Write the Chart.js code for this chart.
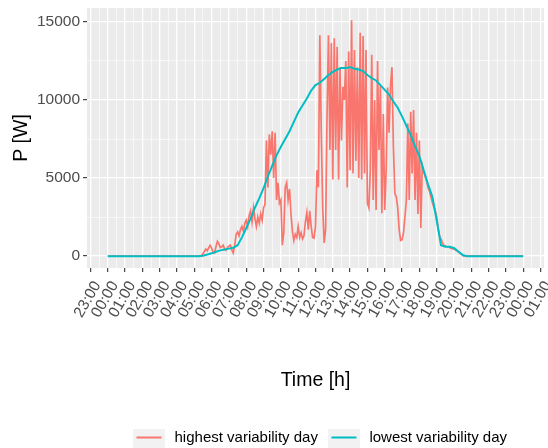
<!DOCTYPE html>
<html>
<head>
<meta charset="utf-8">
<script src="https://cdn.jsdelivr.net/npm/chart.js@4"></script>
<style>
  body { margin: 0; background: #fff; }
  #wrap { width: 548px; height: 448px; }
</style>
</head>
<body>
<div id="wrap"><canvas id="grafico" width="548" height="448"></canvas></div>
<script>
// eixo x: rótulos de hora (23:00 do dia anterior até 01:00 do dia seguinte)
const hourLabels = ['23:00', '00:00', '01:00', '02:00', '03:00', '04:00', '05:00', '06:00',
  '07:00', '08:00', '09:00', '10:00', '11:00', '12:00', '13:00', '14:00', '15:00', '16:00',
  '17:00', '18:00', '19:00', '20:00', '21:00', '22:00', '23:00', '00:00', '01:00'];
const yTicks = [0, 5000, 10000, 15000];

const seriesNames = ['highest variability day', 'lowest variability day'];
const seriesColors = ['#F8766D', '#00BFC4'];

// dia de maior variabilidade, de 5 em 5 minutos a partir das 05:25
const redStart = '05:25';
const redStepMin = 5;
const redValues = [
  0, 170, 300, 450, 350, 550, 700,                                              // 05:25-05:55
  500, 250, 200, 600, 950, 800, 550, 600, 700, 450, 380, 550,                   // 06
  650, 700, 400, 200, 700, 1400, 1550, 1300, 1700, 1900, 1600, 2100,            // 07
  2300, 1900, 2600, 2900, 2200, 3100, 2400, 1900, 2500, 2100, 2700, 2300,       // 08
  3100, 3300, 7400, 4400, 7800, 6500, 8000, 5000, 7900, 3600, 4700, 3400,       // 09
  3600, 700, 1500, 4400, 4700, 3600, 4300, 2700, 1600, 1000, 1400, 1200,        // 10
  1900, 1200, 1500, 1100, 1300, 2200, 2800, 1700, 2900, 1900, 1200, 1150,       // 11
  1900, 5500, 4400, 14150, 7900, 3100, 850, 1700, 9000, 14150, 6800, 13650,     // 12
  4900, 13950, 6800, 13400, 4900, 12100, 7400, 10850, 10000, 12500, 4400, 13100, // 13
  5500, 15100, 5300, 13200, 6100, 12100, 5000, 14300, 4900, 14100, 5300, 13200, // 14
  3400, 3100, 5500, 12900, 3600, 10000, 2950, 12500, 6800, 10900, 2750, 9100,   // 15
  2950, 5500, 10800, 7900, 10900, 12100, 7000, 4000, 3800, 3100, 1700, 1000,    // 16
  1050, 1500, 2500, 3600, 8500, 3600, 9250, 5300, 9350, 3600, 7900, 2700,       // 17
  7400, 1800, 5800, 5400, 5100, 4800, 4400, 4150, 3800, 3450, 3150, 2950,       // 18
  2500, 1800, 1300, 1100, 850, 700, 650, 600, 600, 550, 500, 480,               // 19
  450, 400, 350, 280, 200, 130, 60, 0                                           // 20:00-20:35
];

// dia de menor variabilidade, de 15 em 15 minutos a partir das 05:00
const blueStart = '05:00';
const blueStepMin = 15;
const blueValues = [
  0, 0, 30, 100,
  180, 280, 370, 430,
  480, 530, 700, 1200,
  1800, 2400, 3100, 3700,
  4350, 5100, 5800, 6450,
  7000, 7500, 8000, 8600,
  9200, 9650, 10100, 10600,
  10950, 11100, 11350, 11600,
  11800, 11950, 12050, 12050,
  12100, 12000, 11950, 11850,
  11600, 11400, 11250, 10950,
  10650, 10350, 9900, 9500,
  8950, 8350, 7750, 7050,
  6400, 5500, 4600, 3800,
  2300, 700, 600, 600,
  520, 300, 80, 0
];

function horas(hhmm) {
  const [h, m] = hhmm.split(':').map(Number);
  return h + m / 60;
}

function montarSerie(inicio, passo, valores) {
  const t0 = horas(inicio);
  const pts = [{ x: 0, y: 0 }];
  valores.forEach((v, i) => pts.push({ x: t0 + i * passo / 60, y: v }));
  pts.push({ x: 24, y: 0 });
  return pts;
}

// ticks maiores nas horas, menores nas meias horas (grade do ggplot)
const xTickList = [];
hourLabels.forEach((_, i) => {
  xTickList.push(i - 1);
  if (i < hourLabels.length - 1) xTickList.push(i - 0.5);
});
const yTickList = [];
yTicks.forEach((v, i) => {
  yTickList.push(v);
  if (i < yTicks.length - 1) yTickList.push((v + yTicks[i + 1]) / 2);
});

const fonte = '"Liberation Sans", Arial, sans-serif';

// chave da legenda: quadrado cinza com a linha da série (margem à esquerda)
function chave(cor) {
  const c = document.createElement('canvas');
  c.width = 43;
  c.height = 29;
  const g = c.getContext('2d');
  g.fillStyle = '#f2f2f2';
  g.fillRect(9, 0, 32, 29);
  g.strokeStyle = cor;
  g.lineWidth = 2;
  g.beginPath();
  g.moveTo(12.5, 14.5);
  g.lineTo(37.5, 14.5);
  g.stroke();
  return c;
}

const painel = {
  id: 'painel',
  beforeDraw(chart) {
    const { ctx, chartArea: a } = chart;
    ctx.save();
    ctx.fillStyle = '#fff';
    ctx.fillRect(0, 0, chart.width, chart.height);
    ctx.fillStyle = '#ebebeb';
    ctx.fillRect(a.left, a.top, a.right - a.left, a.bottom - a.top);
    ctx.restore();
  }
};

const isMajorX = c => c.tick && Number.isInteger(c.tick.value);
const isMajorY = c => c.tick && yTicks.includes(c.tick.value);

new Chart(document.getElementById('grafico'), {
  type: 'line',
  data: {
    datasets: [
      {
        label: seriesNames[0],
        data: montarSerie(redStart, redStepMin, redValues),
        borderColor: seriesColors[0],
        borderWidth: 1.7,
        pointRadius: 0,
        order: 1
      },
      {
        label: seriesNames[1],
        data: montarSerie(blueStart, blueStepMin, blueValues),
        borderColor: seriesColors[1],
        borderWidth: 2,
        pointRadius: 0,
        order: 0
      }
    ]
  },
  options: {
    responsive: false,
    animation: false,
    layout: { padding: { top: 8, right: 4, bottom: -7, left: 0 } },
    plugins: {
      tooltip: { enabled: false },
      legend: {
        position: 'bottom',
        fullSize: false,
        labels: {
          usePointStyle: true,
          pointStyleWidth: 43,
          padding: 1,
          color: '#000',
          font: { family: fonte, size: 15 },
          sort: (a, b) => a.datasetIndex - b.datasetIndex,
          generateLabels: chart => seriesNames.map((nome, i) => ({
            text: nome,
            datasetIndex: i,
            pointStyle: chave(seriesColors[i]),
            fillStyle: seriesColors[i],
            strokeStyle: seriesColors[i],
            lineWidth: 0,
            fontColor: '#000',
            hidden: false
          }))
        }
      }
    },
    scales: {
      x: {
        type: 'linear',
        min: -1.2,
        max: 25.2,
        afterBuildTicks: s => { s.ticks = xTickList.map(v => ({ value: v })); },
        afterFit: s => {
          s.height = 161;
          s.paddingLeft = 0;
          s.paddingRight = 0;
        },
        border: { display: false },
        grid: {
          color: '#fff',
          lineWidth: c => isMajorX(c) ? 1.3 : 0.6,
          tickColor: c => isMajorX(c) ? '#333' : 'rgba(0,0,0,0)',
          tickLength: 4,
          tickWidth: 1.1
        },
        ticks: {
          autoSkip: false,
          minRotation: 60,
          maxRotation: 60,
          padding: 6,
          labelOffset: 7,
          color: '#4d4d4d',
          font: { family: fonte, size: 15.5 },
          callback: v => Number.isInteger(v) ? hourLabels[v + 1] : ''
        },
        title: {
          display: true,
          text: 'Time [h]',
          color: '#000',
          font: { family: fonte, size: 19.5 },
          padding: { top: 0, bottom: 36.3 }
        }
      },
      y: {
        min: -760,
        max: 15890,
        afterBuildTicks: s => { s.ticks = yTickList.map(v => ({ value: v })); },
        afterFit: s => {
          s.width = 87;
          s.paddingTop = 0;
          s.paddingBottom = 0;
        },
        border: { display: false },
        grid: {
          color: '#fff',
          lineWidth: c => isMajorY(c) ? 1.3 : 0.6,
          tickColor: c => isMajorY(c) ? '#333' : 'rgba(0,0,0,0)',
          tickLength: 4,
          tickWidth: 1.1
        },
        ticks: {
          padding: 3,
          color: '#4d4d4d',
          font: { family: fonte, size: 15.5 },
          callback: v => yTicks.includes(v) ? String(v) : ''
        },
        title: {
          display: true,
          text: 'P [W]',
          color: '#000',
          font: { family: fonte, size: 19.5 },
          padding: { top: 10, bottom: 0 }
        }
      }
    }
  },
  plugins: [painel]
});
</script>
</body>
</html>
